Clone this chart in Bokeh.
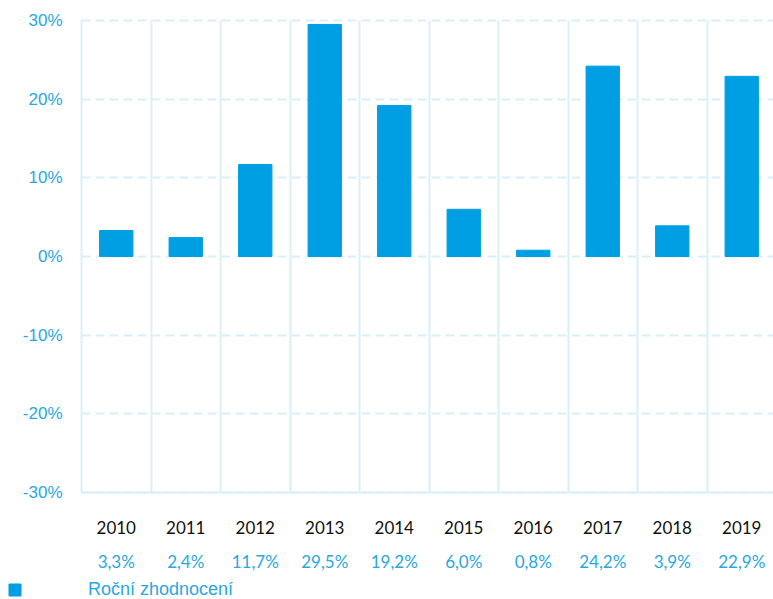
from bokeh.plotting import figure
from bokeh.models import (FixedTicker, Range1d, Legend, LegendItem, Grid,
                          ColumnDataSource)
from bokeh.core.properties import value
from bokeh.embed import file_html
from bokeh.resources import INLINE

years = ["2010", "2011", "2012", "2013", "2014", "2015", "2016", "2017", "2018", "2019"]
returns = [3.3, 2.4, 11.7, 29.5, 19.2, 6.0, 0.8, 24.2, 3.9, 22.9]
value_labels = ["3,3%", "2,4%", "11,7%", "29,5%", "19,2%", "6,0%", "0,8%", "24,2%", "3,9%", "22,9%"]
y_ticks = [-30, -20, -10, 0, 10, 20, 30]
y_tick_labels = ["-30%", "-20%", "-10%", "0%", "10%", "20%", "30%"]
series_name = "Roční zhodnocení"

BLUE = "#009FE3"
TICK_BLUE = "#29A8E0"
GRID = "#DAEFFA"

# layout (pixels)
W, H = 773, 599
PLOT_LEFT, PLOT_TOP, PLOT_BOTTOM = 81, 20, 492
COL_W = 69.5

n = len(years)
xs = list(range(1, n + 1))
ymin, ymax = y_ticks[0], y_ticks[-1]
px_per_unit = (PLOT_BOTTOM - PLOT_TOP) / (ymax - ymin)
x_start = 0.5 - PLOT_LEFT / COL_W
x_end = x_start + W / COL_W
y_end = ymax + PLOT_TOP / px_per_unit
y_start = ymin - (H - PLOT_BOTTOM) / px_per_unit

p = figure(width=W, height=H, output_backend="svg", toolbar_location=None,
           x_range=Range1d(x_start, x_end), y_range=Range1d(y_start, y_end),
           x_axis_location=None, y_axis_location=None, min_border=0)
p.outline_line_color = None
p.background_fill_color = "white"
p.center = []  # drop default grids

# grids
vgrid = Grid(dimension=0, ticker=FixedTicker(ticks=[i + 0.5 for i in range(0, n + 1)]),
             bounds=(0.5, n + 0.5), cross_bounds=(ymin, ymax),
             grid_line_color=GRID, grid_line_width=2)
hgrid = Grid(dimension=1, ticker=FixedTicker(ticks=y_ticks),
             bounds=(ymin, ymax), cross_bounds=(0.5, n + 0.5),
             grid_line_color=GRID, grid_line_width=2, grid_line_dash="9 5")
p.add_layout(vgrid)
p.add_layout(hgrid)

# bottom axis line
p.segment(x0=[0.5], x1=[n + 0.5], y0=[ymin], y1=[ymin], line_color=GRID, line_width=2)

src = ColumnDataSource(dict(x=xs, top=returns))
r = p.vbar(x="x", top="top", bottom=0, width=0.48, source=src,
           fill_color=BLUE, line_color=BLUE)

# y tick labels
p.text(x=[0.5] * len(y_ticks), y=y_ticks, text=y_tick_labels, x_offset=-19,
       text_align="right", text_baseline="middle", text_color=TICK_BLUE,
       text_font=value("Liberation Sans"), text_font_size="17px")

# category labels and values
p.text(x=xs, y=[ymin] * n, text=years, y_offset=35,
       text_align="center", text_baseline="middle", text_color="#111111",
       text_font=value("Lato"), text_font_size="17px")
p.text(x=xs, y=[ymin] * n, text=value_labels, y_offset=69,
       text_align="center", text_baseline="middle", text_color=TICK_BLUE,
       text_font=value("Lato"), text_font_size="17px")

legend = Legend(items=[LegendItem(label=series_name, renderers=[r])],
                location=(7, -1), orientation="horizontal",
                glyph_width=15, glyph_height=15, label_standoff=66,
                padding=0, margin=0, spacing=0,
                label_text_font="Liberation Sans", label_text_font_size="18px",
                label_text_color=TICK_BLUE, label_height=15,
                background_fill_alpha=0, border_line_color=None)
p.add_layout(legend, "center")

open("out.html", "w").write(file_html(p, INLINE))
